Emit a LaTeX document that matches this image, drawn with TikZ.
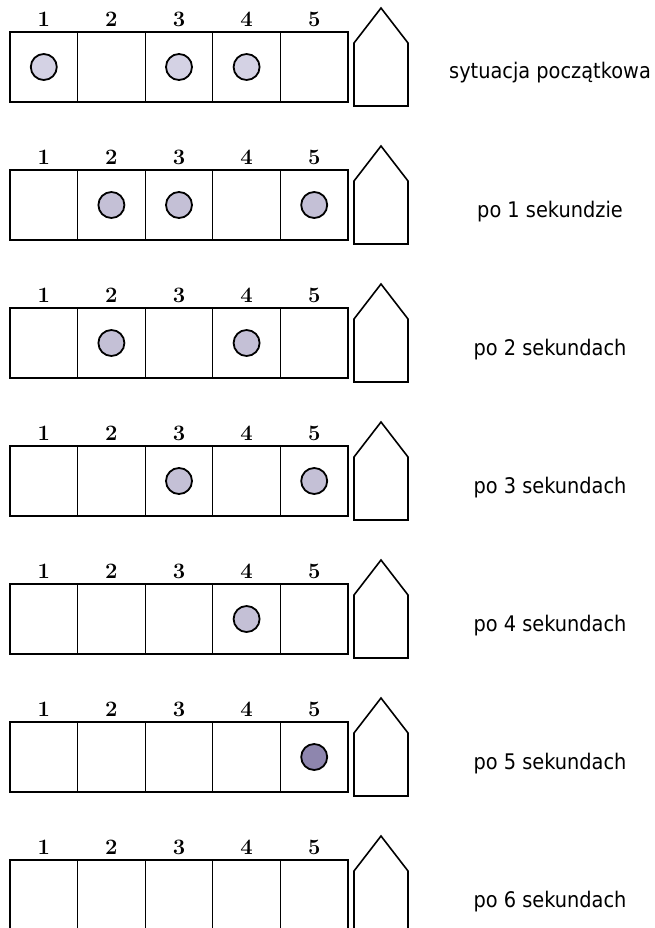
\documentclass[tikz,border=0pt]{standalone}
\usepackage{fontspec}
\newfontfamily\labelfont{DejaVu Sans}[FakeStretch=0.9]
\definecolor{ballL}{HTML}{D4D2E4}
\definecolor{ballM}{HTML}{C4C0D6}
\definecolor{ballD}{HTML}{8E86AE}
\begin{document}
\begin{tikzpicture}[x=1pt,y=-1pt,
  cell/.style={draw,line width=1.3pt,minimum width=67.6pt,minimum height=70pt,inner sep=0pt,outer sep=0pt},
  ball/.style={circle,draw,line width=1.8pt,minimum size=26pt,inner sep=0pt},
  num/.style={font=\rmfamily\bfseries\fontsize{22}{26}\selectfont,inner sep=0pt},
  lab/.style={font=\labelfont\fontsize{21.5}{24}\selectfont,anchor=base,inner sep=0pt},
  house/.style={draw,line width=1.6pt,line join=miter}]
\useasboundingbox (0,0) rectangle (654,928);
\foreach \r/\txt in {0/sytuacja początkowa,1/po 1 sekundzie,2/po 2 sekundach,3/po 3 sekundach,4/po 4 sekundach,5/po 5 sekundach,6/po 6 sekundach} {
  \pgfmathsetmacro\rtop{32+138*\r}
  \foreach \k in {1,...,5} {
    \node[cell] (c\r-\k) at ({10+67.6*(\k-0.5)},{\rtop+35}) {};
    \node[num] (n\r-\k) at ({10+67.6*(\k-0.5)},{\rtop-13}) {\k};
  }
  \draw[house] (354,{\rtop+74}) -- (354,{\rtop+11}) -- (381,{\rtop-24}) -- (408,{\rtop+11}) -- (408,{\rtop+74}) -- cycle;
  \node[lab] (l\r) at (550,{\rtop+47}) {\txt};
}
\foreach \r/\k/\col in {0/1/ballL,0/3/ballL,0/4/ballL,1/2/ballM,1/3/ballM,1/5/ballM,2/2/ballM,2/4/ballM,3/3/ballM,3/5/ballM,4/4/ballM,5/5/ballD} {
  \node[ball,fill=\col] (b\r-\k) at (c\r-\k) {};
}
\end{tikzpicture}
\end{document}
